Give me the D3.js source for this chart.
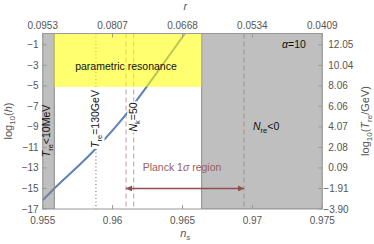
<!DOCTYPE html>
<html>
<head>
<meta charset="utf-8">
<script src="https://cdn.jsdelivr.net/npm/d3@7"></script>
<style>
  body { margin: 0; background: #fff; }
  text { font-family: "Liberation Sans", Arial, sans-serif; }
</style>
</head>
<body>
<div id="chart"></div>
<script>
// ticks
const nsTicks = [0.955, 0.96, 0.965, 0.97, 0.975];
const rLabels = ["0.0953", "0.0807", "0.0668", "0.0534", "0.0409"];
const hTicks = [-1, -3, -5, -7, -9, -11, -13, -15, -17];
const tLabels = ["12.05", "10.04", "8.06", "6.06", "4.07", "2.08", "0.09", "\u22121.91", "\u22123.90"];

// curve
const curveNs   = [0.955, 0.95583, 0.9579, 0.95874, 0.96065, 0.96243, 0.96375, 0.96518];
const curveLogH = [-16.15, -15.0, -12.35, -11.2, -8.3, -5.1, -2.6, 0.1];

// regions and lines
const lowTre = [0.955, 0.95583];        // T_re < 10 MeV
const negNre = [0.96637, 0.975];        // N_re < 0
const resNs = [0.95583, 0.96637];       // parametric resonance
const resLogH = [-5.1, 0.1];
const tre130 = 0.95881;
const planck = [0.96096, 0.9694];
const planckY = -15;
const nk50 = 0.96151;

const W = 374, H = 244;
const margin = {top: 33.5, right: 51.7, bottom: 35, left: 42.7};

const svg = d3.select("#chart").append("svg")
  .attr("width", W).attr("height", H);

const x = d3.scaleLinear().domain([0.955, 0.975]).range([margin.left, W - margin.right]);
const y = d3.scaleLinear().domain([-17, 0.1]).range([H - margin.bottom, margin.top]);

svg.append("clipPath").attr("id", "clip").append("rect")
  .attr("x", margin.left).attr("y", margin.top)
  .attr("width", x(0.975) - x(0.955)).attr("height", y(-17) - y(0.1));

const plot = svg.append("g").attr("clip-path", "url(#clip)");

// vertical lines
plot.append("line").attr("x1", x(tre130)).attr("x2", x(tre130))
  .attr("y1", y(0.1)).attr("y2", y(-17))
  .attr("stroke", "#666").attr("stroke-width", 1).attr("stroke-dasharray", "1,2.5");
plot.selectAll(".pl").data(planck).enter().append("line")
  .attr("x1", d => x(d)).attr("x2", d => x(d))
  .attr("y1", y(0.1)).attr("y2", y(-17))
  .attr("stroke", "#c79c9c").attr("stroke-width", 1).attr("stroke-dasharray", "5,3");
plot.append("line").attr("x1", x(nk50)).attr("x2", x(nk50))
  .attr("y1", y(0.1)).attr("y2", y(-17))
  .attr("stroke", "#a8a8a8").attr("stroke-width", 1).attr("stroke-dasharray", "5,3");

function vlabel(parent, cx, cy, html, bg) {
  const g = parent.append("g").attr("transform", `translate(${cx},${cy}) rotate(-90)`)
    .attr("font-size", 10.5).attr("fill", "#111");
  const t = g.append("text").attr("text-anchor", "middle").attr("y", 3.5).html(html);
  if (bg) {
    const b = t.node().getBBox();
    g.insert("rect", "text").attr("x", b.x - 1).attr("y", b.y).attr("width", b.width + 2)
      .attr("height", b.height).attr("fill", "#fff");
  }
}
vlabel(svg, x(tre130), 119, '<tspan font-style="italic">T</tspan><tspan font-size="7.5" dy="3">re</tspan><tspan dy="-3">=130GeV</tspan>', true);
vlabel(svg, x(nk50), 117, '<tspan font-style="italic">N</tspan><tspan font-size="7.5" dy="3">k</tspan><tspan dy="-3">=50</tspan>', true);

// blue curve
const pts = curveNs.map((d, i) => [d, curveLogH[i]]);
plot.append("path").datum(pts)
  .attr("d", d3.line().x(d => x(d[0])).y(d => y(d[1])).curve(d3.curveMonotoneX))
  .attr("fill", "none").attr("stroke", "#5e81b5").attr("stroke-width", 2);

// gray regions
[lowTre, negNre].forEach(r => {
  plot.append("rect")
    .attr("x", x(r[0])).attr("y", y(0.1))
    .attr("width", x(r[1]) - x(r[0])).attr("height", y(-17) - y(0.1))
    .attr("fill", "#808080").attr("fill-opacity", 0.5)
    .attr("stroke", "#8a8a8a").attr("stroke-width", 1);
});

// yellow region
plot.append("rect")
  .attr("x", x(resNs[0])).attr("y", y(resLogH[1]))
  .attr("width", x(resNs[1]) - x(resNs[0])).attr("height", y(resLogH[0]) - y(resLogH[1]))
  .attr("fill", "#ffff00").attr("fill-opacity", 0.56);

// Planck arrow
const defs = svg.append("defs");
defs.append("marker").attr("id", "ah").attr("viewBox", "0 0 10 10")
  .attr("refX", 10).attr("refY", 5).attr("markerWidth", 10).attr("markerHeight", 6)
  .attr("markerUnits", "userSpaceOnUse").attr("orient", "auto-start-reverse")
  .append("path").attr("d", "M0,0L10,5L0,10Z").attr("fill", "#8f4f4f");
svg.append("line")
  .attr("x1", x(planck[0])).attr("x2", x(planck[1]))
  .attr("y1", y(planckY)).attr("y2", y(planckY))
  .attr("stroke", "#8f4f4f").attr("stroke-width", 1.5)
  .attr("marker-start", "url(#ah)").attr("marker-end", "url(#ah)");
svg.append("text").attr("x", x((planck[0] + planck[1]) / 2) - 3).attr("y", 171)
  .attr("text-anchor", "middle").attr("font-size", 10.5).attr("fill", "#99605f")
  .html('Planck 1<tspan font-style="italic">σ</tspan> region');

// frame
svg.append("rect").attr("x", margin.left).attr("y", margin.top)
  .attr("width", x(0.975) - x(0.955)).attr("height", y(-17) - y(0.1))
  .attr("fill", "none").attr("stroke", "#999").attr("stroke-width", 1);

// ticks
const tk = svg.append("g").attr("stroke", "#999").attr("stroke-width", 1);
nsTicks.forEach(d => {
  tk.append("line").attr("x1", x(d)).attr("x2", x(d)).attr("y1", y(-17)).attr("y2", y(-17) - 4);
  tk.append("line").attr("x1", x(d)).attr("x2", x(d)).attr("y1", y(0.1)).attr("y2", y(0.1) + 4);
});
hTicks.forEach(d => {
  tk.append("line").attr("x1", x(0.955)).attr("x2", x(0.955) + 4).attr("y1", y(d)).attr("y2", y(d));
  tk.append("line").attr("x1", x(0.975)).attr("x2", x(0.975) - 4).attr("y1", y(d)).attr("y2", y(d));
});

const lab = svg.append("g").attr("font-size", 10).attr("fill", "#555");
nsTicks.forEach((d, i) => {
  lab.append("text").attr("x", x(d)).attr("y", y(-17) + 15).attr("text-anchor", "middle").text(d3.format("")(d));
  lab.append("text").attr("x", x(d)).attr("y", y(0.1) - 5).attr("text-anchor", "middle").text(rLabels[i]);
});
hTicks.forEach((d, i) => {
  lab.append("text").attr("x", x(0.955) - 4).attr("y", y(d) + 3.5).attr("text-anchor", "end")
    .text(d < 0 ? "\u2212" + Math.abs(d) : d);
  const t = tLabels[i];
  lab.append("text").attr("x", t[0] === "\u2212" ? x(0.975) + 1 : x(0.975) + 6)
    .attr("y", y(d) + 3.5).attr("text-anchor", "start").text(t);
});

// axis titles
const at = svg.append("g").attr("font-size", 11).attr("fill", "#555");
at.append("text").attr("transform", "translate(12,121) rotate(-90)").attr("text-anchor", "middle")
  .html('log<tspan font-size="8" dy="3">10</tspan><tspan dy="-3">(</tspan><tspan font-style="italic">h</tspan>)');
at.append("text").attr("transform", "translate(369,121) rotate(-90)").attr("text-anchor", "middle")
  .html('log<tspan font-size="8" dy="3">10</tspan><tspan dy="-3">(</tspan><tspan font-style="italic">T</tspan><tspan font-size="8" dy="3">re</tspan><tspan dy="-3">/GeV)</tspan>');
at.append("text").attr("x", x(0.9652)).attr("y", 237).attr("text-anchor", "middle")
  .html('<tspan font-style="italic">n</tspan><tspan font-style="italic" font-size="8" dy="3">s</tspan>');
at.append("text").attr("x", x(0.9652)).attr("y", 10).attr("text-anchor", "middle")
  .attr("font-style", "italic").text("r");

// annotations
const ann = svg.append("g").attr("font-size", 10.5).attr("fill", "#111");
ann.append("text").attr("x", x((resNs[0] + resNs[1]) / 2) - 2).attr("y", 70)
  .attr("text-anchor", "middle").text("parametric resonance");
ann.append("text").attr("x", 282).attr("y", 48)
  .html('<tspan font-style="italic">α</tspan>=10');
ann.append("text").attr("x", 253).attr("y", 130)
  .html('<tspan font-style="italic">N</tspan><tspan font-size="7.5" dy="3">re</tspan><tspan dy="-3">&lt;0</tspan>');
vlabel(svg, x(0.9553), 131, '<tspan font-style="italic">T</tspan><tspan font-size="7.5" dy="3">re</tspan><tspan dy="-3">&lt;10MeV</tspan>', false);
</script>
</body>
</html>
